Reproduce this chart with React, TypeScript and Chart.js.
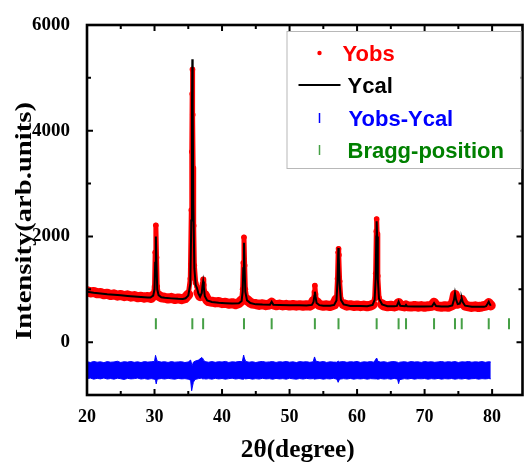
import React, { useEffect, useRef } from "react";
import { Chart, registerables } from "chart.js";

Chart.register(...registerables);

// ---- axis ticks ----
const xMajorTicks = [20, 30, 40, 50, 60, 70, 80];
const xMinorTicks = [25, 35, 45, 55, 65, 75];
const yMajorTicks = [0, 2000, 4000, 6000];
const yMinorTicks = [1000, 3000, 5000];

const xTitle = "2θ(degree)";
const yTitle = "Intensity(arb.units)";
const legendLabels = ["Yobs", "Ycal", "Yobs-Ycal", "Bragg-position"];

// ---- calculated profile (2θ, intensity) ----
const ycal: [number, number][] = [
  [20, 955], [21, 935], [22, 920], [23, 905], [24, 895], [25, 885], [26, 873], [27, 862], [28, 852], [29, 843],
  [29.4, 845], [29.8, 880], [30.0, 1000], [30.1, 1500], [30.2, 2000], [30.3, 1450], [30.4, 1000], [30.6, 890],
  [31.0, 850], [31.5, 838], [32.5, 828], [33.5, 820], [34.2, 818], [34.6, 830], [35.0, 880], [35.3, 1100],
  [35.45, 2300], [35.55, 4500], [35.6, 5350], [35.65, 4500], [35.75, 2600], [35.9, 1400], [36.1, 1080],
  [36.3, 1020], [36.5, 920], [36.75, 860], [37.0, 930], [37.1, 1060], [37.2, 1145], [37.3, 1040], [37.45, 870],
  [37.8, 790], [38.5, 760], [39.5, 745], [40.5, 738], [41.5, 730], [42.5, 735], [42.9, 780], [43.05, 950],
  [43.15, 1400], [43.25, 1880], [43.35, 1350], [43.45, 950], [43.7, 790], [44.2, 740], [45, 715], [46, 710],
  [47.1, 708], [47.35, 765], [47.6, 706], [48.5, 703], [50, 700], [51.5, 697], [52.5, 695], [53.3, 705],
  [53.55, 760], [53.68, 880], [53.75, 955], [53.85, 860], [54.0, 740], [54.4, 700], [55, 690], [56, 688],
  [56.6, 705], [56.95, 790], [57.1, 1150], [57.2, 1650], [57.25, 1780], [57.32, 1600], [57.42, 1100], [57.6, 800],
  [58.0, 715], [59, 685], [60.5, 683], [61.5, 681], [62.3, 705], [62.6, 800], [62.75, 1200], [62.85, 2000],
  [62.9, 2285], [62.97, 2000], [63.07, 1200], [63.25, 820], [63.7, 715], [64.5, 678], [65.5, 677], [65.9, 685],
  [66.15, 765], [66.4, 688], [67.1, 678], [67.25, 705], [67.4, 678], [68.5, 676], [70, 675], [71.1, 680],
  [71.4, 740], [71.7, 682], [72.5, 674], [73.5, 673], [74.1, 695], [74.35, 800], [74.5, 925], [74.65, 810],
  [74.9, 720], [75.2, 730], [75.4, 800], [75.5, 830], [75.65, 760], [76.0, 690], [77, 670], [78, 668],
  [78.8, 668], [79.1, 680], [79.35, 730], [79.5, 765], [79.65, 720], [79.8, 690],
];

// ---- observed profile (2θ, intensity) ----
const yobs: [number, number][] = [
  [20, 965], [20.5, 940], [21, 950], [21.5, 925], [22, 930], [22.5, 905], [23, 915], [23.5, 890], [24, 905],
  [24.5, 880], [25, 893], [25.5, 870], [26, 885], [26.5, 860], [27, 872], [27.5, 850], [28, 860], [28.5, 840],
  [29, 855], [29.5, 835], [29.8, 880], [30.0, 1050], [30.1, 1700], [30.2, 2210], [30.3, 1600], [30.4, 1050],
  [30.6, 880], [31, 850], [31.5, 840], [32, 825], [32.5, 838], [33, 815], [33.5, 828], [34, 812], [34.5, 830],
  [35.0, 900], [35.3, 1200], [35.45, 2500], [35.52, 3600], [35.58, 4700], [35.62, 5160], [35.66, 4300],
  [35.72, 3300], [35.8, 2200], [35.9, 1450], [36.1, 1120], [36.3, 1050], [36.5, 940], [36.75, 870], [37.0, 960],
  [37.1, 1100], [37.2, 1190], [37.3, 1080], [37.45, 890], [37.8, 800], [38, 775], [38.5, 765], [39, 752],
  [39.5, 760], [40, 738], [40.5, 745], [41, 725], [41.5, 738], [42, 718], [42.5, 740], [42.9, 790], [43.05, 1000],
  [43.15, 1500], [43.25, 1985], [43.35, 1450], [43.45, 1000], [43.7, 800], [44.2, 745], [44.5, 728], [45, 720],
  [45.5, 705], [46, 718], [46.5, 700], [47, 712], [47.35, 745], [47.6, 712], [48, 698], [48.5, 710], [49, 695],
  [49.5, 706], [50, 692], [50.5, 703], [51, 690], [51.5, 700], [52, 688], [52.5, 699], [53, 690], [53.3, 712],
  [53.55, 780], [53.68, 950], [53.75, 1070], [53.85, 910], [54.0, 760], [54.4, 705], [55, 688], [55.5, 697],
  [56, 684], [56.6, 710], [56.95, 810], [57.1, 1200], [57.2, 1700], [57.25, 1765], [57.32, 1650], [57.42, 1150],
  [57.6, 820], [58, 718], [58.5, 690], [59, 700], [59.5, 683], [60, 694], [60.5, 680], [61, 692], [61.5, 678],
  [62, 690], [62.3, 710], [62.6, 820], [62.75, 1300], [62.85, 2100], [62.9, 2330], [62.97, 2050], [63.07, 1250],
  [63.25, 840], [63.7, 718], [64, 690], [64.5, 680], [65, 688], [65.5, 676], [65.9, 690], [66.15, 740], [66.4, 690],
  [67, 676], [67.25, 695], [67.5, 680], [68, 672], [68.5, 684], [69, 670], [69.5, 682], [70, 668], [70.5, 680],
  [71.1, 690], [71.4, 745], [71.7, 690], [72, 676], [72.5, 668], [73, 680], [73.5, 670], [74.1, 700], [74.35, 800],
  [74.5, 895], [74.65, 810], [74.9, 730], [75.2, 740], [75.4, 780], [75.5, 800], [75.65, 760], [76, 690],
  [76.5, 676], [77, 666], [77.5, 678], [78, 664], [78.5, 675], [79.1, 690], [79.35, 720], [79.5, 735],
  [79.65, 715], [79.8, 695],
];

// ---- difference curve envelope (2θ, upper, lower) ----
const diffBand: [number, number, number][] = [
  [20, -370, -690], [20.5, -385, -680], [21, -365, -700], [21.5, -380, -685], [22, -372, -695], [22.5, -388, -678],
  [23, -368, -698], [23.5, -380, -688], [24, -375, -700], [24.5, -362, -682], [25, -385, -692], [25.5, -370, -705],
  [26, -378, -685], [26.5, -366, -695], [27, -382, -690], [27.5, -372, -680], [28, -386, -698], [28.5, -368, -688],
  [29, -378, -702], [29.5, -372, -690], [30, -365, -700], [30.15, -250, -720], [30.25, -300, -790], [30.4, -360, -700],
  [31, -378, -688], [31.5, -370, -698], [32, -384, -684], [32.5, -368, -694], [33, -380, -700], [33.5, -374, -686],
  [34, -370, -695], [34.5, -386, -690], [35, -375, -700], [35.35, -340, -720], [35.5, -420, -920], [35.6, -440, -850],
  [35.75, -380, -760], [36, -360, -705], [36.5, -340, -690], [37, -290, -680], [37.15, -310, -700], [37.3, -350, -690],
  [37.6, -372, -698], [38, -380, -690], [38.5, -368, -700], [39, -382, -685], [39.5, -370, -696], [40, -376, -688],
  [40.5, -365, -700], [41, -384, -690], [41.5, -372, -682], [42, -378, -698], [42.5, -366, -688], [43, -370, -700],
  [43.2, -245, -700], [43.3, -300, -690], [43.5, -365, -695], [44, -380, -686], [44.5, -370, -700], [45, -386, -690],
  [45.5, -372, -698], [46, -366, -684], [46.5, -380, -695], [47, -374, -690], [47.5, -368, -702], [48, -384, -686],
  [48.5, -370, -696], [49, -378, -690], [49.5, -366, -700], [50, -380, -684], [50.5, -372, -694], [51, -386, -700],
  [51.5, -368, -688], [52, -376, -698], [52.5, -370, -686], [53, -382, -694], [53.5, -372, -690], [53.7, -280, -700],
  [53.9, -360, -695], [54.5, -378, -688], [55, -366, -700], [55.5, -384, -690], [56, -372, -696], [56.5, -378, -684],
  [57, -380, -700], [57.2, -360, -760], [57.4, -375, -700], [58, -368, -690], [58.5, -382, -698], [59, -370, -686],
  [59.5, -376, -700], [60, -366, -690], [60.5, -384, -696], [61, -372, -688], [61.5, -378, -700], [62, -368, -690],
  [62.5, -380, -694], [62.9, -300, -695], [63.1, -365, -700], [63.5, -378, -688], [64, -370, -698], [64.5, -384, -690],
  [65, -372, -700], [65.5, -368, -686], [66, -380, -700], [66.15, -390, -785], [66.3, -380, -710], [67, -370, -690],
  [67.5, -382, -698], [68, -368, -686], [68.5, -376, -700], [69, -372, -690], [69.5, -384, -694], [70, -366, -688],
  [70.5, -378, -700], [71, -370, -690], [71.5, -382, -698], [72, -374, -686], [72.5, -366, -700], [73, -380, -690],
  [73.5, -370, -696], [74, -378, -688], [74.5, -368, -700], [75, -384, -690], [75.5, -372, -698], [76, -376, -686],
  [76.5, -366, -700], [77, -380, -692], [77.5, -372, -688], [78, -378, -700], [78.5, -368, -690], [79, -382, -696],
  [79.5, -370, -688], [79.8, -376, -694],
];

// ---- Bragg reflections (2θ) ----
const braggPositions = [30.2, 35.6, 37.2, 43.25, 47.35, 53.75, 57.25, 62.9, 66.15, 67.25, 71.4, 74.5, 75.5, 79.5, 82.5];
const braggLevel = 350;

const RED = "#ff0000";
const BLUE = "#0000ff";
const TICK_GREEN = "#46a046";
const TEXT_GREEN = "#008000";

const decorPlugin = {
  id: "decor",
  afterDatasetsDraw(chart: any) {
    const { ctx, chartArea } = chart;
    const { left, right, top, bottom } = chartArea;
    const xs = chart.scales.x;
    const ys = chart.scales.y;
    ctx.save();
    ctx.strokeStyle = "#000";
    ctx.lineWidth = 2;
    const tickX = (v: number, len: number) => {
      const p = xs.getPixelForValue(v);
      ctx.beginPath();
      ctx.moveTo(p, bottom);
      ctx.lineTo(p, bottom - len);
      ctx.moveTo(p, top);
      ctx.lineTo(p, top + len);
      ctx.stroke();
    };
    const tickY = (v: number, len: number) => {
      const p = ys.getPixelForValue(v);
      ctx.beginPath();
      ctx.moveTo(left, p);
      ctx.lineTo(left + len, p);
      ctx.moveTo(right, p);
      ctx.lineTo(right - len, p);
      ctx.stroke();
    };
    xMajorTicks.forEach((v) => tickX(v, 6));
    xMinorTicks.forEach((v) => tickX(v, 4));
    yMajorTicks.forEach((v) => tickY(v, 6));
    yMinorTicks.forEach((v) => tickY(v, 4));
    ctx.lineWidth = 2.6;
    ctx.strokeRect(left, top, right - left, bottom - top);
    ctx.restore();
  },
  afterDraw(chart: any) {
    const { ctx, chartArea } = chart;
    const { left, right, top, bottom } = chartArea;
    ctx.save();
    const drawStretched = (text: string, cx: number, cy: number, target: number, rot: number) => {
      ctx.save();
      ctx.translate(cx, cy);
      ctx.rotate(rot);
      const w = ctx.measureText(text).width;
      ctx.scale(target / w, 1);
      ctx.textAlign = "center";
      ctx.textBaseline = "alphabetic";
      ctx.fillText(text, 0, 0);
      ctx.restore();
    };
    ctx.fillStyle = "#000";
    ctx.font = 'bold 25px "Liberation Serif"';
    drawStretched(xTitle, (left + right) / 2 - 7, bottom + 62, 114, 0);
    ctx.font = 'bold 24px "Liberation Serif"';
    drawStretched(yTitle, left - 56, (top + bottom) / 2 + 11, 238, -Math.PI / 2);

    // legend box
    const bx = right - 236;
    const by = top + 6;
    const bw = 234;
    const bh = 137;
    ctx.fillStyle = "#ffffff";
    ctx.fillRect(bx, by, bw, bh);
    ctx.strokeStyle = "#b8b8b8";
    ctx.lineWidth = 1;
    ctx.strokeRect(bx + 0.5, by + 0.5, bw, bh);

    const symX = bx + 33;
    const rows = [by + 30, by + 62, by + 95, by + 127];
    ctx.font = 'bold 22px "Liberation Sans"';
    ctx.textBaseline = "alphabetic";
    ctx.textAlign = "left";
    ctx.fillStyle = RED;
    ctx.beginPath();
    ctx.arc(symX, rows[0] - 8, 2.2, 0, Math.PI * 2);
    ctx.fill();
    ctx.fillText(legendLabels[0], bx + 56, rows[0]);
    ctx.strokeStyle = "#000";
    ctx.lineWidth = 2;
    ctx.beginPath();
    ctx.moveTo(bx + 12, rows[1] - 8);
    ctx.lineTo(bx + 54, rows[1] - 8);
    ctx.stroke();
    ctx.fillStyle = "#000";
    ctx.fillText(legendLabels[1], bx + 61, rows[1]);
    ctx.strokeStyle = BLUE;
    ctx.lineWidth = 1.5;
    ctx.beginPath();
    ctx.moveTo(symX, rows[2] - 13);
    ctx.lineTo(symX, rows[2] - 3);
    ctx.stroke();
    ctx.fillStyle = BLUE;
    ctx.fillText(legendLabels[2], bx + 62, rows[2]);
    ctx.strokeStyle = TICK_GREEN;
    ctx.beginPath();
    ctx.moveTo(symX, rows[3] - 13);
    ctx.lineTo(symX, rows[3] - 3);
    ctx.stroke();
    ctx.fillStyle = TEXT_GREEN;
    ctx.fillText(legendLabels[3], bx + 61, rows[3]);
    ctx.restore();
  },
};

export default function App() {
  const canvasRef = useRef<HTMLCanvasElement | null>(null);

  useEffect(() => {
    const canvas = canvasRef.current;
    if (!canvas) return;
    const tickFont = { family: "Liberation Serif", weight: "bold" as const, size: 18 };
    const chart = new Chart(canvas, {
      type: "line",
      data: {
        datasets: [
          {
            label: "Ycal",
            data: ycal.map(([x, y]) => ({ x, y })),
            borderColor: "#000000",
            borderWidth: 2,
            pointRadius: 0,
            fill: false,
          },
          {
            label: "Yobs",
            data: yobs.map(([x, y]) => ({ x, y })),
            borderColor: RED,
            borderWidth: 10,
            borderJoinStyle: "round",
            borderCapStyle: "round",
            pointRadius: 2.8,
            pointBackgroundColor: RED,
            pointBorderWidth: 0,
            fill: false,
            segment: {
              borderWidth: (c: any) => {
                const a = c.p0.parsed.y;
                const b = c.p1.parsed.y;
                return Math.max(a, b) >= 1000 || Math.abs(a - b) > 100 ? 5 : 10;
              },
            },
          },
          {
            label: "Yobs-Ycal",
            data: diffBand.map(([x, hi]) => ({ x, y: hi })),
            borderColor: BLUE,
            borderWidth: 1,
            pointRadius: 0,
            backgroundColor: BLUE,
            fill: "+1",
          },
          {
            label: "Yobs-Ycal low",
            data: diffBand.map(([x, , lo]) => ({ x, y: lo })),
            borderColor: BLUE,
            borderWidth: 1,
            pointRadius: 0,
            fill: false,
          },
          {
            label: "Bragg-position",
            data: braggPositions.map((x) => ({ x, y: braggLevel })),
            showLine: false,
            pointStyle: "line",
            rotation: 90,
            pointRadius: 5.5,
            pointBorderWidth: 2,
            borderColor: TICK_GREEN,
            pointBorderColor: TICK_GREEN,
            backgroundColor: TICK_GREEN,
            fill: false,
          },
        ],
      },
      options: {
        animation: false,
        responsive: false,
        events: [],
        layout: { padding: { top: 25, right: 3, left: 0, bottom: 0 } },
        plugins: { legend: { display: false }, tooltip: { enabled: false } },
        scales: {
          x: {
            type: "linear",
            min: 20,
            max: 84.5,
            grid: { display: false },
            border: { display: false },
            afterBuildTicks: (scale: any) => {
              scale.ticks = xMajorTicks.map((v) => ({ value: v }));
            },
            afterFit: (scale: any) => {
              scale.height = 67;
            },
            ticks: { font: tickFont, color: "#000", padding: 4, maxRotation: 0, callback: (v: any) => String(v) },
          },
          y: {
            type: "linear",
            min: -1000,
            max: 6000,
            grid: { display: false },
            border: { display: false },
            afterBuildTicks: (scale: any) => {
              scale.ticks = yMajorTicks.map((v) => ({ value: v }));
            },
            afterFit: (scale: any) => {
              scale.width = 87;
            },
            ticks: { font: { ...tickFont, size: 19 }, color: "#000", padding: 9, callback: (v: any) => String(v) },
          },
        },
      },
      plugins: [decorPlugin],
    });
    return () => chart.destroy();
  }, []);

  return (
    <div style={{ position: "fixed", left: 0, top: 0, width: 530, height: 462, background: "#ffffff" }}>
      <canvas ref={canvasRef} width={530} height={462} />
    </div>
  );
}
